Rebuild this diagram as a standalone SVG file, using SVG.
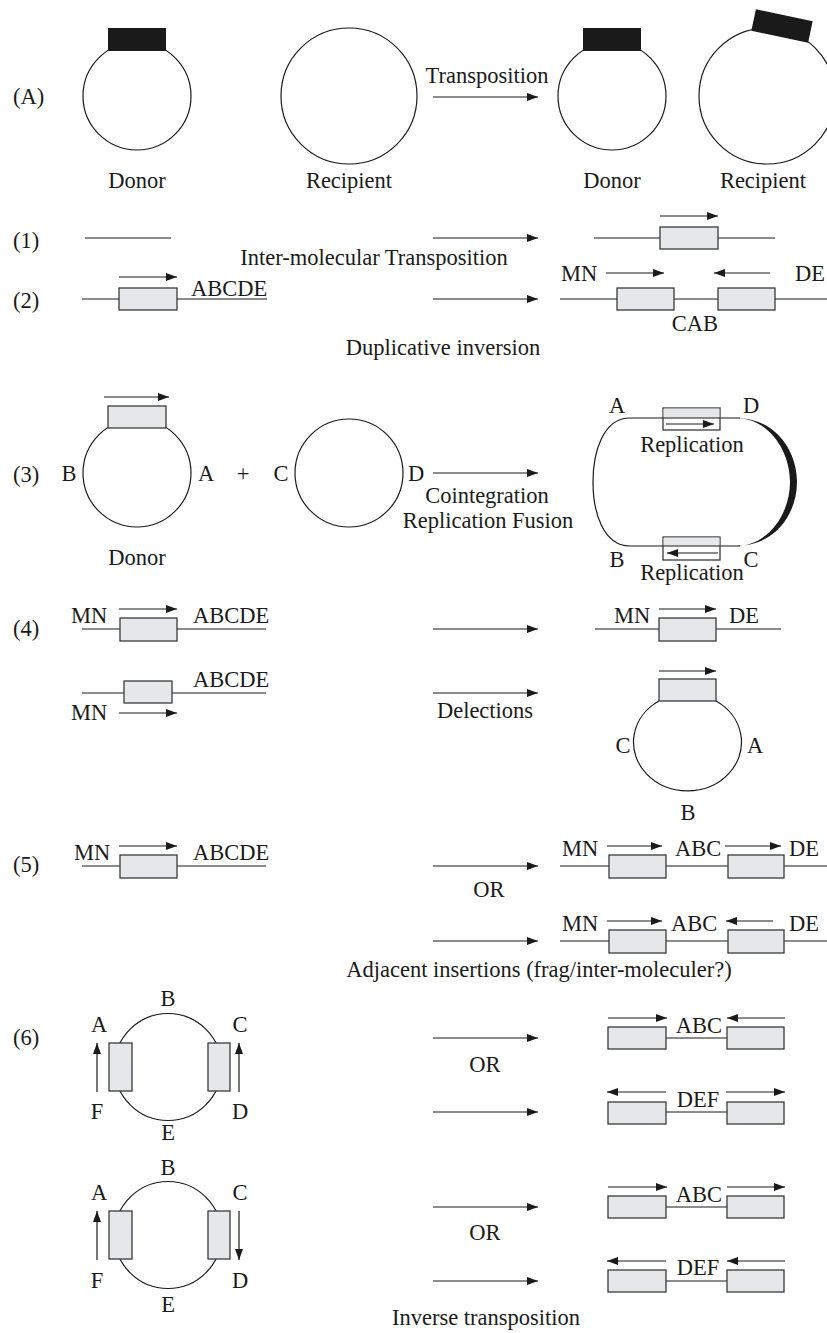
<svg xmlns="http://www.w3.org/2000/svg" width="827" height="1333" viewBox="0 0 827 1333">
<defs>
<marker id="ah" markerUnits="userSpaceOnUse" markerWidth="11" markerHeight="8" refX="11" refY="4" orient="auto">
<path d="M0,0 L11,4 L0,8 Z" fill="#1a1a1a"/>
</marker>
<style>
text{font-family:"Liberation Serif","Times New Roman",serif;font-size:22.5px;fill:#1a1a1a}
.m{text-anchor:middle}
.ln{stroke:#1a1a1a;stroke-width:1.2;fill:none}
.ar{stroke:#1a1a1a;stroke-width:1.2;fill:none;marker-end:url(#ah)}
.bx{fill:#e6e7e8;stroke:#3a3a3a;stroke-width:1.3}
.blk{fill:#1a1a1a}
.cir{fill:none;stroke:#1a1a1a;stroke-width:1.2}
</style>
</defs>
<rect width="827" height="1333" fill="#fff"/>

<g id="labels">
<text x="13" y="104">(A)</text>
<text x="13" y="248">(1)</text>
<text x="13" y="308">(2)</text>
<text x="13" y="482">(3)</text>
<text x="13" y="636">(4)</text>
<text x="13" y="872">(5)</text>
<text x="13" y="1045">(6)</text>
</g>

<g id="connectors">
<line class="ar" x1="433" y1="97" x2="538" y2="97"/>
<line class="ar" x1="433" y1="238" x2="538" y2="238"/>
<line class="ar" x1="433" y1="299" x2="538" y2="299"/>
<line class="ar" x1="433" y1="473" x2="538" y2="473"/>
<line class="ar" x1="433" y1="629" x2="538" y2="629"/>
<line class="ar" x1="433" y1="693" x2="538" y2="693"/>
<line class="ar" x1="433" y1="866" x2="538" y2="866"/>
<line class="ar" x1="433" y1="941" x2="538" y2="941"/>
<line class="ar" x1="433" y1="1038" x2="538" y2="1038"/>
<line class="ar" x1="433" y1="1112" x2="538" y2="1112"/>
<line class="ar" x1="433" y1="1207" x2="538" y2="1207"/>
<line class="ar" x1="433" y1="1281" x2="538" y2="1281"/>
<text class="m" x="487" y="83">Transposition</text>
<text class="m" x="374" y="265">Inter-molecular Transposition</text>
<text class="m" x="443" y="355">Duplicative inversion</text>
<text class="m" x="487" y="503">Cointegration</text>
<text class="m" x="488" y="528">Replication Fusion</text>
<text class="m" x="485" y="718">Delections</text>
<text class="m" x="489" y="897">OR</text>
<text class="m" x="539" y="977">Adjacent insertions (frag/inter-moleculer?)</text>
<text class="m" x="485" y="1072">OR</text>
<text class="m" x="485" y="1240">OR</text>
<text class="m" x="486" y="1325">Inverse transposition</text>
</g>

<g id="A-donor">
<circle class="cir" cx="137" cy="96" r="54"/>
<rect class="blk" x="108" y="28" width="58" height="23"/>
<text class="m" x="137" y="188">Donor</text>
</g>
<g id="A-recipient">
<circle class="cir" cx="349" cy="96" r="68"/>
<text class="m" x="349" y="188">Recipient</text>
</g>
<g id="A-donor2">
<circle class="cir" cx="612" cy="96" r="54"/>
<rect class="blk" x="583" y="28" width="58" height="23"/>
<text class="m" x="612" y="188">Donor</text>
</g>
<g id="A-recipient2">
<circle class="cir" cx="767" cy="96" r="68"/>
<rect class="blk" x="-29" y="-11" width="58" height="22" transform="translate(782,26) rotate(12)"/>
<text class="m" x="763" y="188">Recipient</text>
</g>

<g id="s1-left">
<line class="ln" x1="85" y1="238" x2="171" y2="238"/>
</g>
<g id="s1-right">
<line class="ln" x1="594" y1="238" x2="775" y2="238"/>
<rect class="bx" x="660" y="227" width="58" height="22"/>
<line class="ar" x1="660" y1="216" x2="718" y2="216"/>
</g>

<g id="s2-left">
<line class="ln" x1="82" y1="299" x2="267" y2="299"/>
<rect class="bx" x="119" y="288" width="58" height="22"/>
<line class="ar" x1="119" y1="277" x2="177" y2="277"/>
<text x="191" y="296">ABCDE</text>
</g>
<g id="s2-right">
<line class="ln" x1="560" y1="299" x2="827" y2="299"/>
<rect class="bx" x="617" y="288" width="57" height="22"/>
<rect class="bx" x="718" y="288" width="57" height="22"/>
<line class="ar" x1="606" y1="273" x2="664" y2="273"/>
<line class="ar" x1="770" y1="273" x2="714" y2="273"/>
<text x="561" y="281">MN</text>
<text x="795" y="281">DE</text>
<text class="m" x="695" y="331">CAB</text>
</g>

<g id="s3-donor">
<circle class="cir" cx="137" cy="473" r="54"/>
<rect class="bx" x="108" y="406" width="58" height="22"/>
<line class="ar" x1="104" y1="397" x2="169" y2="397"/>
<text class="m" x="69" y="481">B</text>
<text class="m" x="206" y="481">A</text>
<text class="m" x="137" y="565">Donor</text>
</g>
<text class="m" x="243" y="481">+</text>
<g id="s3-recipient">
<circle class="cir" cx="349" cy="473" r="54"/>
<text class="m" x="281" y="481">C</text>
<text class="m" x="416" y="481">D</text>
</g>
<g id="s3-cointegrate">
<path class="ln" d="M630,418 H740 M630,546 H740 M630,418 C603,418 593,452 593,482 C593,512 603,546 630,546"/>
<path class="blk" d="M736,418 C775,418 797,450 797,482 C797,514 775,546 736,546 C768,546 790,514 790,482 C790,450 768,418 736,418 Z"/>
<rect x="663" y="408" width="57" height="22" fill="#fff" stroke="#3a3a3a" stroke-width="1.3"/>
<rect x="663.6" y="408.6" width="55.8" height="9.4" fill="#e6e7e8"/>
<line class="ln" x1="663" y1="418" x2="720" y2="418"/>
<line class="ar" x1="666" y1="424" x2="714" y2="424"/>
<rect x="663" y="537" width="57" height="23" fill="#fff" stroke="#3a3a3a" stroke-width="1.3"/>
<rect x="663.6" y="537.6" width="55.8" height="8.4" fill="#e6e7e8"/>
<line class="ln" x1="663" y1="546" x2="720" y2="546"/>
<line class="ar" x1="718" y1="553" x2="667" y2="553"/>
<text class="m" x="617" y="413">A</text>
<text class="m" x="751" y="413">D</text>
<text class="m" x="617" y="567">B</text>
<text class="m" x="751" y="567">C</text>
<text class="m" x="692" y="452">Replication</text>
<text class="m" x="692" y="580">Replication</text>
</g>

<g id="s4-left1">
<line class="ln" x1="82" y1="629" x2="266" y2="629"/>
<rect class="bx" x="120" y="618" width="57" height="23"/>
<line class="ar" x1="119" y1="609" x2="177" y2="609"/>
<text x="71" y="623">MN</text>
<text x="193" y="623">ABCDE</text>
</g>
<g id="s4-left2">
<line class="ln" x1="82" y1="693" x2="266" y2="693"/>
<rect class="bx" x="124" y="681" width="48" height="22"/>
<line class="ar" x1="119" y1="713" x2="177" y2="713"/>
<text x="71" y="720">MN</text>
<text x="193" y="687">ABCDE</text>
</g>
<g id="s4-right1">
<line class="ln" x1="595" y1="629" x2="781" y2="629"/>
<rect class="bx" x="659" y="618" width="57" height="23"/>
<line class="ar" x1="659" y1="609" x2="716" y2="609"/>
<text x="614" y="623">MN</text>
<text x="729" y="623">DE</text>
</g>
<g id="s4-right2">
<path class="ln" d="M659,701 A54,48.6 0 1 0 716,701"/>
<rect class="bx" x="659" y="679" width="57" height="22"/>
<line class="ar" x1="659" y1="671" x2="716" y2="671"/>
<text class="m" x="623" y="753">C</text>
<text class="m" x="755" y="753">A</text>
<text class="m" x="688" y="820">B</text>
</g>

<g id="s5-left">
<line class="ln" x1="82" y1="866" x2="266" y2="866"/>
<rect class="bx" x="120" y="855" width="57" height="23"/>
<line class="ar" x1="119" y1="846" x2="177" y2="846"/>
<text x="74" y="860">MN</text>
<text x="193" y="860">ABCDE</text>
</g>
<g id="s5-right1">
<line class="ln" x1="560" y1="866" x2="827" y2="866"/>
<rect class="bx" x="609" y="855" width="57" height="23"/>
<rect class="bx" x="728" y="855" width="56" height="23"/>
<line class="ar" x1="607" y1="846" x2="662" y2="846"/>
<line class="ar" x1="725" y1="846" x2="781" y2="846"/>
<text x="562" y="856">MN</text>
<text x="675" y="856">ABC</text>
<text x="789" y="856">DE</text>
</g>
<g id="s5-right2">
<line class="ln" x1="560" y1="941" x2="827" y2="941"/>
<rect class="bx" x="609" y="930" width="57" height="23"/>
<rect class="bx" x="728" y="930" width="56" height="23"/>
<line class="ar" x1="607" y1="921" x2="662" y2="921"/>
<line class="ar" x1="773" y1="921" x2="726" y2="921"/>
<text x="562" y="931">MN</text>
<text x="671" y="931">ABC</text>
<text x="789" y="931">DE</text>
</g>

<g id="s6-circle1">
<circle class="cir" cx="168" cy="1067" r="53.5"/>
<rect class="bx" x="109" y="1043" width="23" height="48"/>
<rect class="bx" x="208" y="1043" width="22" height="48"/>
<line class="ar" x1="97" y1="1092" x2="97" y2="1043"/>
<line class="ar" x1="239" y1="1092" x2="239" y2="1043"/>
<text class="m" x="99" y="1032">A</text>
<text class="m" x="168" y="1006">B</text>
<text class="m" x="240" y="1032">C</text>
<text class="m" x="97" y="1119">F</text>
<text class="m" x="168" y="1140">E</text>
<text class="m" x="240" y="1119">D</text>
</g>
<g id="s6-right1">
<line class="ln" x1="666" y1="1038" x2="727" y2="1038"/>
<rect class="bx" x="608" y="1027" width="58" height="22"/>
<rect class="bx" x="727" y="1027" width="57" height="22"/>
<line class="ar" x1="608" y1="1018" x2="667" y2="1018"/>
<line class="ar" x1="785" y1="1018" x2="727" y2="1018"/>
<text class="m" x="699" y="1033">ABC</text>
</g>
<g id="s6-right2">
<line class="ln" x1="666" y1="1112" x2="727" y2="1112"/>
<rect class="bx" x="608" y="1102" width="58" height="22"/>
<rect class="bx" x="727" y="1102" width="57" height="22"/>
<line class="ar" x1="666" y1="1092" x2="607" y2="1092"/>
<line class="ar" x1="726" y1="1092" x2="785" y2="1092"/>
<text class="m" x="698" y="1107">DEF</text>
</g>
<g id="s6-circle2">
<circle class="cir" cx="168" cy="1235" r="53.5"/>
<rect class="bx" x="109" y="1211" width="23" height="48"/>
<rect class="bx" x="208" y="1211" width="22" height="48"/>
<line class="ar" x1="97" y1="1260" x2="97" y2="1211"/>
<line class="ar" x1="239" y1="1211" x2="239" y2="1260"/>
<text class="m" x="99" y="1200">A</text>
<text class="m" x="168" y="1175">B</text>
<text class="m" x="240" y="1200">C</text>
<text class="m" x="97" y="1288">F</text>
<text class="m" x="168" y="1312">E</text>
<text class="m" x="240" y="1288">D</text>
</g>
<g id="s6-right3">
<line class="ln" x1="666" y1="1207" x2="727" y2="1207"/>
<rect class="bx" x="608" y="1196" width="58" height="22"/>
<rect class="bx" x="727" y="1196" width="57" height="22"/>
<line class="ar" x1="608" y1="1187" x2="667" y2="1187"/>
<line class="ar" x1="727" y1="1187" x2="785" y2="1187"/>
<text class="m" x="699" y="1202">ABC</text>
</g>
<g id="s6-right4">
<line class="ln" x1="666" y1="1281" x2="727" y2="1281"/>
<rect class="bx" x="608" y="1270" width="58" height="22"/>
<rect class="bx" x="727" y="1270" width="57" height="22"/>
<line class="ar" x1="666" y1="1261" x2="607" y2="1261"/>
<line class="ar" x1="785" y1="1261" x2="727" y2="1261"/>
<text class="m" x="698" y="1275">DEF</text>
</g>
</svg>
